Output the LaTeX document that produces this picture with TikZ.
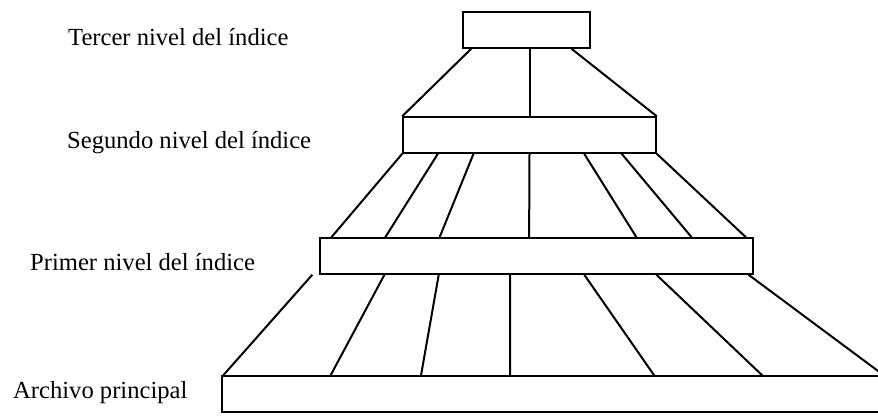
\documentclass[tikz,border=0pt]{standalone}
\usepackage{fontspec}
\setmainfont{Liberation Serif}
\usetikzlibrary{calc}

\begin{document}
\begin{tikzpicture}[x=1pt, y=-1pt,
    nivel/.style={draw, line width=1.5pt, inner sep=0pt, minimum height=36pt},
    etiqueta/.style={anchor=base west, inner sep=0pt, font=\fontsize{24.6}{30}\selectfont},
    enlace/.style={line width=2pt}]

    \useasboundingbox (0,0) rectangle (878,415);
    \clip (0,0) rectangle (878,415);

    % niveles
    \node[nivel, minimum width=127pt] (tercer) at (526.5, 30) {};
    \node[nivel, minimum width=253pt] (segundo) at (529.5, 135) {};
    \node[nivel, minimum width=433pt] (primer) at (536.5, 256) {};
    \node[nivel, minimum width=678pt] (archivo) at (561, 394) {};

    % etiquetas
    \node[etiqueta] (lbltercer) at (68, 45) {Tercer nivel del índice};
    \node[etiqueta] (lblsegundo) at (67, 148) {Segundo nivel del índice};
    \node[etiqueta] (lblprimer) at (30, 270) {Primer nivel del índice};
    \node[etiqueta] (lblarchivo) at (13, 398) {Archivo principal};

    % tercer -> segundo
    \draw[enlace] ($(tercer.south west)!0.07!(tercer.south east)$) -- (segundo.north west);
    \draw[enlace] (segundo.north |- tercer.south) -- (segundo.north);
    \draw[enlace] ($(tercer.south west)!0.85!(tercer.south east)$) -- (segundo.north east);

    % segundo -> primer
    \foreach \a/\b in {0/0.028, 0.14/0.152, 0.28/0.277, 0.5/0.483, 0.715/0.73, 0.862/0.857, 1/0.982}
        \draw[enlace] ($(segundo.south west)!\a!(segundo.south east)$) -- ($(primer.north west)!\b!(primer.north east)$);

    % primer -> archivo
    \foreach \a/\b in {-0.016/0.003, 0.15/0.161, 0.275/0.294, 0.439/0.425, 0.61/0.637, 0.776/0.796, 0.988/0.975}
        \draw[enlace] ($(primer.south west)!\a!(primer.south east)$) -- ($(archivo.north west)!\b!(archivo.north east)$);

\end{tikzpicture}
\end{document}
